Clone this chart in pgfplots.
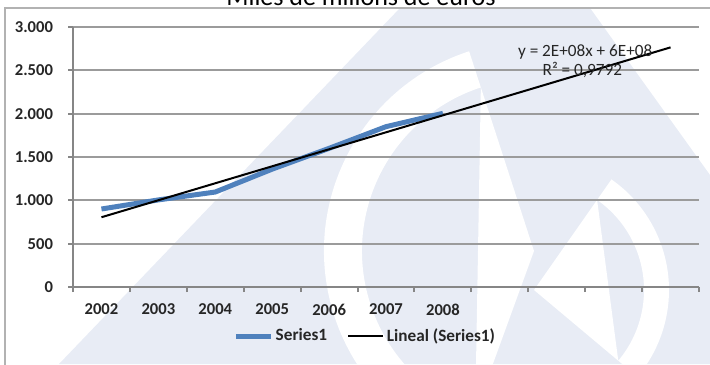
\documentclass[border=0pt]{standalone}
\usepackage{pgfplots}
\pgfplotsset{compat=1.18}
\usepackage{fontspec}
\setmainfont{Carlito}
\definecolor{serieblue}{RGB}{79,129,189}
\definecolor{gridgray}{RGB}{155,155,155}
\definecolor{axisgray}{RGB}{134,134,134}
\definecolor{wm}{RGB}{232,236,245}

% yearly values, index 1 = 2002
\pgfplotstableread{
x  y
1  900
2  1005
3  1096
4  1360
5  1600
6  1850
7  2004
}\seriesone
% linear trend, projected four periods ahead
\pgfplotstableread{
x  y
1  805
11 2765
}\trend

\begin{document}
\begin{tikzpicture}[x=0.5pt,y=0.5pt]
\useasboundingbox (0,0) rectangle (710,364);
% faint background logo
\begin{scope}
  \clip (5,0) rectangle (710,356);
  \fill[wm] (59,0) -- (400,356) -- (590,356) -- (710,189) -- (710,0) -- cycle;
  \fill[white] (534,113) ++(108:210) arc[start angle=108,end angle=250,radius=210]
     -- (534,113) ++(250:172) arc[start angle=250,end angle=108,radius=172] -- cycle;
  \fill[white] (534,74) ++(55:135) arc[start angle=55,end angle=-40,radius=135]
     -- (534,74) ++(-40:110) arc[start angle=-40,end angle=55,radius=110] -- cycle;
\end{scope}
% chart frame
\draw[gray!60, line width=1pt] (5,-20) -- (5,356) -- (740,356);
% title
\node[anchor=base, font=\fontsize{13}{15}\selectfont, inner sep=0pt] at (361,358) {Miles de millons de euros};

\begin{axis}[
  at={(36.5pt,38.5pt)}, anchor=south west,
  scale only axis, width=313pt, height=130pt,
  xmin=0.5, xmax=11.5, ymin=0, ymax=3000,
  axis lines=left,
  axis line style={axisgray, line width=1.2pt, -},
  tick align=outside,
  xtick={1,...,7},
  xticklabels={2002,2003,2004,2005,2006,2007,2008},
  major x tick style={draw=none},
  minor xtick={0.5,1.5,...,11.5},
  minor tick length=2.5pt,
  minor x tick style={axisgray, line width=1pt},
  ytick={0,500,...,3000},
  yticklabels={0,500,1.000,1.500,2.000,2.500,3.000},
  major tick length=2.5pt,
  major y tick style={axisgray, line width=1pt},
  ymajorgrids,
  grid style={gridgray, line width=0.9pt},
  /pgf/number format/assume math mode=true,
  xticklabel style={font=\bfseries\fontsize{8.3}{10}\selectfont, text=black!85, yshift=-2.5pt},
  yticklabel style={font=\bfseries\fontsize{8.3}{10}\selectfont, text=black!85, xshift=-4pt},
  clip=false,
  legend columns=2,
  legend style={at={(0.467,-0.19)}, anchor=center, draw=none, fill=none,
    font=\bfseries\fontsize{8.6}{10}\selectfont, text=black!85,
    nodes={inner sep=1.2pt},
    /tikz/every even column/.append style={column sep=9pt}},
  legend image code/.code={\draw[#1] (0pt,0pt) -- (17.5pt,0pt);},
]
\addplot[serieblue, line width=2.5pt, line join=round] table[x=x,y=y] {\seriesone};
\addlegendentry{Series1}
\addplot[black, line width=1pt] table[x=x,y=y] {\trend};
\addlegendentry{Lineal (Series1)}
\node[font=\fontsize{8.6}{10}\selectfont, text=black!85] at (axis cs:9.5,2711) {y = 2E+08x + 6E+08};
\node[font=\fontsize{8.6}{10}\selectfont, text=black!85] at (axis cs:9.45,2504) {R² = 0,9792};
\end{axis}
\end{tikzpicture}
\end{document}
